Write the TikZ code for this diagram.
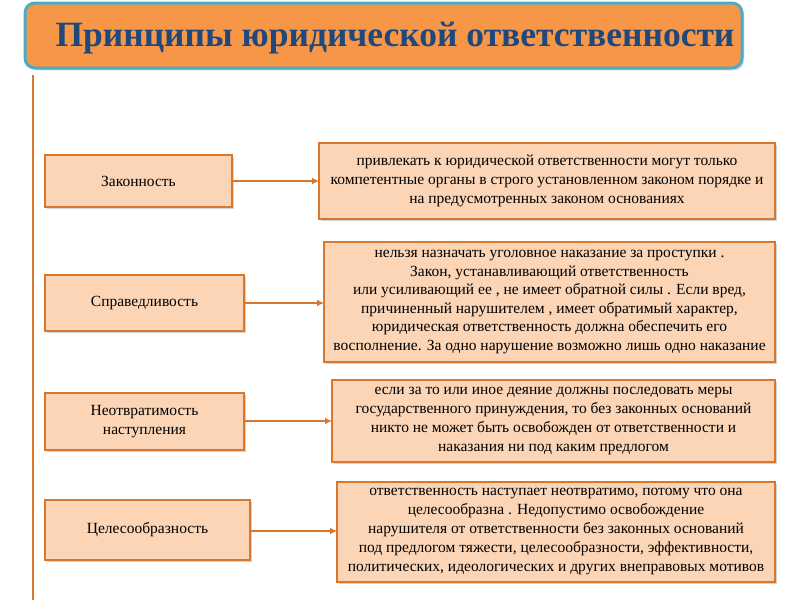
\documentclass[tikz,border=0pt]{standalone}
\usepackage{fontspec}
\setmainfont{Liberation Serif}
\usetikzlibrary{shadows}
\definecolor{org}{HTML}{D9782D}
\definecolor{peach}{HTML}{FBD5B5}
\definecolor{ttl}{HTML}{F79646}
\definecolor{tbd}{HTML}{4BACC6}
\definecolor{tdk}{HTML}{1F497D}
\tikzset{
 bx/.style={draw=org,line width=2.5pt,fill=peach,drop shadow={shadow xshift=2pt,shadow yshift=-2pt,opacity=0.35}},
 lbl/.style={align=center,font=\fontsize{15.5}{19}\selectfont},
 arr/.style={org,line width=2pt,-{Latex[length=7pt,width=7pt]}}
}
\usetikzlibrary{arrows.meta}
\begin{document}
\begin{tikzpicture}[x=1pt,y=-1pt]
\useasboundingbox (0,0) rectangle (800,600);
\draw[draw=tbd,line width=3pt,fill=ttl,rounded corners=10pt,drop shadow={opacity=0.3}] (25,3) rectangle (742,68);
\node[font=\bfseries\fontsize{35.5}{38}\selectfont,text=tdk] (title) at (395,38) {Принципы юридической ответственности};
\draw[org,line width=2pt] (33,75) -- (33,600);
% left boxes
\path[bx] (45,155) rectangle (232,207); \node[lbl] (l1) at (138.5,181) {Законность};
\path[bx] (45,275) rectangle (244,331); \node[lbl] (l2) at (144.5,303) {Справедливость};
\path[bx] (45,393) rectangle (244,450); \node[lbl] (l3) at (144.5,421.5) {Неотвратимость\\наступления};
\path[bx] (45,500) rectangle (250,560); \node[lbl] (l4) at (147.5,530) {Целесообразность};
% right boxes
\path[bx] (319,143) rectangle (775,219);
\node[lbl] (r1) at (547,181) {привлекать к юридической ответственности могут только\\компетентные органы в строго установленном законом порядке и\\на предусмотренных законом основаниях};
\path[bx] (324,242) rectangle (775,362);
\node[lbl,font=\fontsize{15.5}{18.5}\selectfont] (r2) at (549.5,302) {нельзя назначать уголовное наказание за проступки .\\Закон, устанавливающий ответственность\\или усиливающий ее , не имеет обратной силы . Если вред,\\причиненный нарушителем , имеет обратимый характер,\\юридическая ответственность должна обеспечить его\\восполнение. За одно нарушение возможно лишь одно наказание};
\path[bx] (332,380) rectangle (775,462);
\node[lbl] (r3) at (553.5,421) {если за то или иное деяние должны последовать меры\\государственного принуждения, то без законных оснований\\никто не может быть освобожден от ответственности и\\наказания ни под каким предлогом};
\path[bx] (337,482) rectangle (775,582);
\node[lbl] (r4) at (556,532) {ответственность наступает неотвратимо, потому что она\\целесообразна . Недопустимо освобождение\\нарушителя от ответственности без законных оснований\\под предлогом тяжести, целесообразности, эффективности,\\политических, идеологических и других внеправовых мотивов};
\coordinate (a1) at (232,181); \coordinate (b1) at (319,181);
\coordinate (a2) at (244,303); \coordinate (b2) at (324,303);
\coordinate (a3) at (244,421); \coordinate (b3) at (332,421);
\coordinate (a4) at (250,531); \coordinate (b4) at (337,531);
\draw[arr] (a1) -- (b1); \draw[arr] (a2) -- (b2); \draw[arr] (a3) -- (b3); \draw[arr] (a4) -- (b4);
\end{tikzpicture}
\end{document}
